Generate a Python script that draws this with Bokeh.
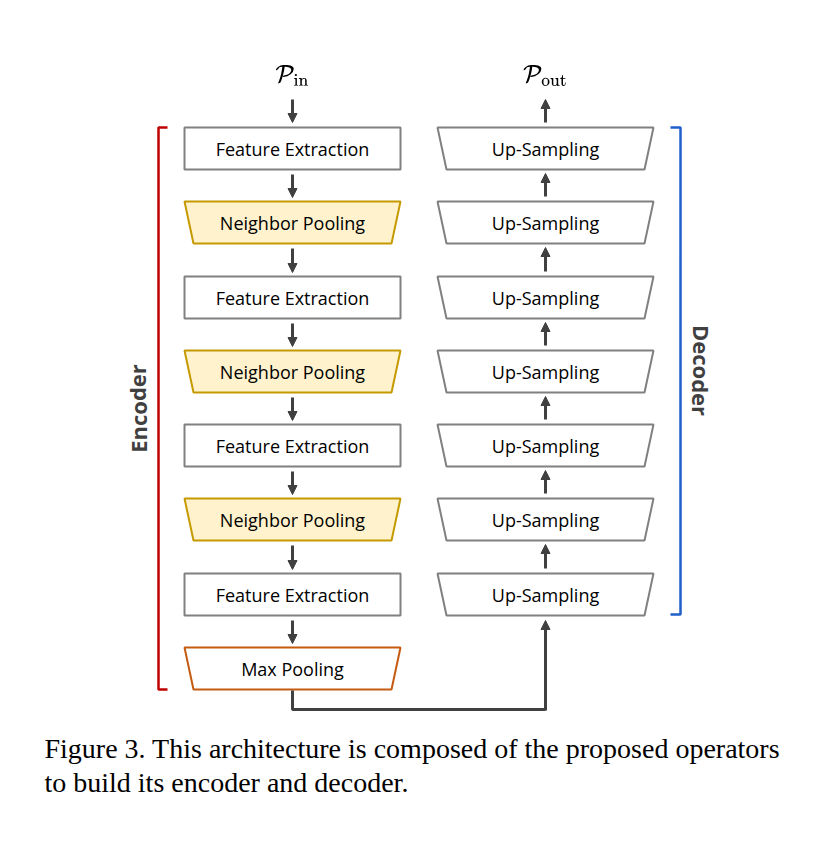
from bokeh.plotting import figure
from bokeh.models import Range1d, Arrow, NormalHead, Label, TeX
from bokeh.core.properties import value
from bokeh.embed import file_html
from bokeh.resources import INLINE

# encoder blocks, top to bottom
enc_labels = ["Feature Extraction", "Neighbor Pooling", "Feature Extraction", "Neighbor Pooling",
              "Feature Extraction", "Neighbor Pooling", "Feature Extraction", "Max Pooling"]
enc_kind = ["rect", "pool", "rect", "pool", "rect", "pool", "rect", "max"]
# decoder blocks, top to bottom
dec_labels = ["Up-Sampling"] * 7
row_y = [148, 222, 297, 371, 445, 519, 594, 668]

caption = ["Figure 3. This architecture is composed of the proposed operators",
           "to build its encoder and decoder."]

W, H = 825, 856
p = figure(width=W, height=H, x_range=Range1d(0, W), y_range=Range1d(H, 0),
           output_backend="svg", toolbar_location=None, min_border=0)
p.axis.visible = False
p.grid.visible = False
p.outline_line_color = None

dark = "#404040"
gray = "#808080"
font = value("Open Sans")
hh = 21

def trap(cx, cy, top, bot, fill, line):
    xs = [cx - top, cx + top, cx + bot, cx - bot]
    ys = [cy - hh, cy - hh, cy + hh, cy + hh]
    p.patch(xs, ys, fill_color=fill, line_color=line, line_width=2)

lx, rx = 292, 545
for lab, kind, y in zip(enc_labels, enc_kind, row_y):
    if kind == "rect":
        trap(lx, y, 108, 108, "white", gray)
    elif kind == "pool":
        trap(lx, y, 108, 99, "#fff2cc", "#c49a00")
    else:
        trap(lx, y, 108, 99, "white", "#c55a11")
    p.text([lx], [y], text=[lab], text_font=font, text_font_size="18px",
           text_align="center", text_baseline="middle", text_color="black")

for lab, y in zip(dec_labels, row_y[:7]):
    trap(rx, y, 108, 99, "white", gray)
    p.text([rx], [y], text=[lab], text_font=font, text_font_size="18px",
           text_align="center", text_baseline="middle", text_color="black")

def arrow(x0, y0, x1, y1):
    p.add_layout(Arrow(x_start=x0, y_start=y0, x_end=x1, y_end=y1, line_color=dark, line_width=3,
                       end=NormalHead(size=9, fill_color=dark, line_color=dark)))

# input / output arrows
arrow(lx, 99, lx, 122)
arrow(rx, 122, rx, 99)
for i in range(len(row_y) - 1):
    arrow(lx, row_y[i] + 26, lx, row_y[i + 1] - 25)
for i in range(6):
    arrow(rx, row_y[i + 1] - 26, rx, row_y[i] + 25)

# bottom connector
p.line([lx, lx, rx], [690, 709, 709], line_color=dark, line_width=3)
arrow(rx, 710, rx, 620)

p.add_layout(Label(x=lx, y=76, text=TeX(text=r"\mathcal{P}_{\text{in}}"), text_font_size="21px",
                   text_align="center", text_baseline="middle", text_color="black"))
p.add_layout(Label(x=rx, y=76, text=TeX(text=r"\mathcal{P}_{\text{out}}"), text_font_size="21px",
                   text_align="center", text_baseline="middle", text_color="black"))

# brackets
p.line([167, 158, 158, 167], [127, 127, 689, 689], line_color="#c00000", line_width=2.5)
p.line([670, 680, 680, 670], [127, 127, 614, 614], line_color="#1f5fc8", line_width=2.5)
p.text([137], [408], text=["Encoder"], angle=1.5708, text_font=font, text_font_style="bold",
       text_font_size="22px", text_align="center", text_baseline="middle", text_color=dark)
p.text([701], [370], text=["Decoder"], angle=-1.5708, text_font=font, text_font_style="bold",
       text_font_size="22px", text_align="center", text_baseline="middle", text_color=dark)

p.text([44, 44], [748, 782], text=caption, text_font=value("Liberation Serif"),
       text_font_size="28px", text_align="left", text_baseline="middle", text_color="black")

open("out.html", "w").write(file_html(p, INLINE))
